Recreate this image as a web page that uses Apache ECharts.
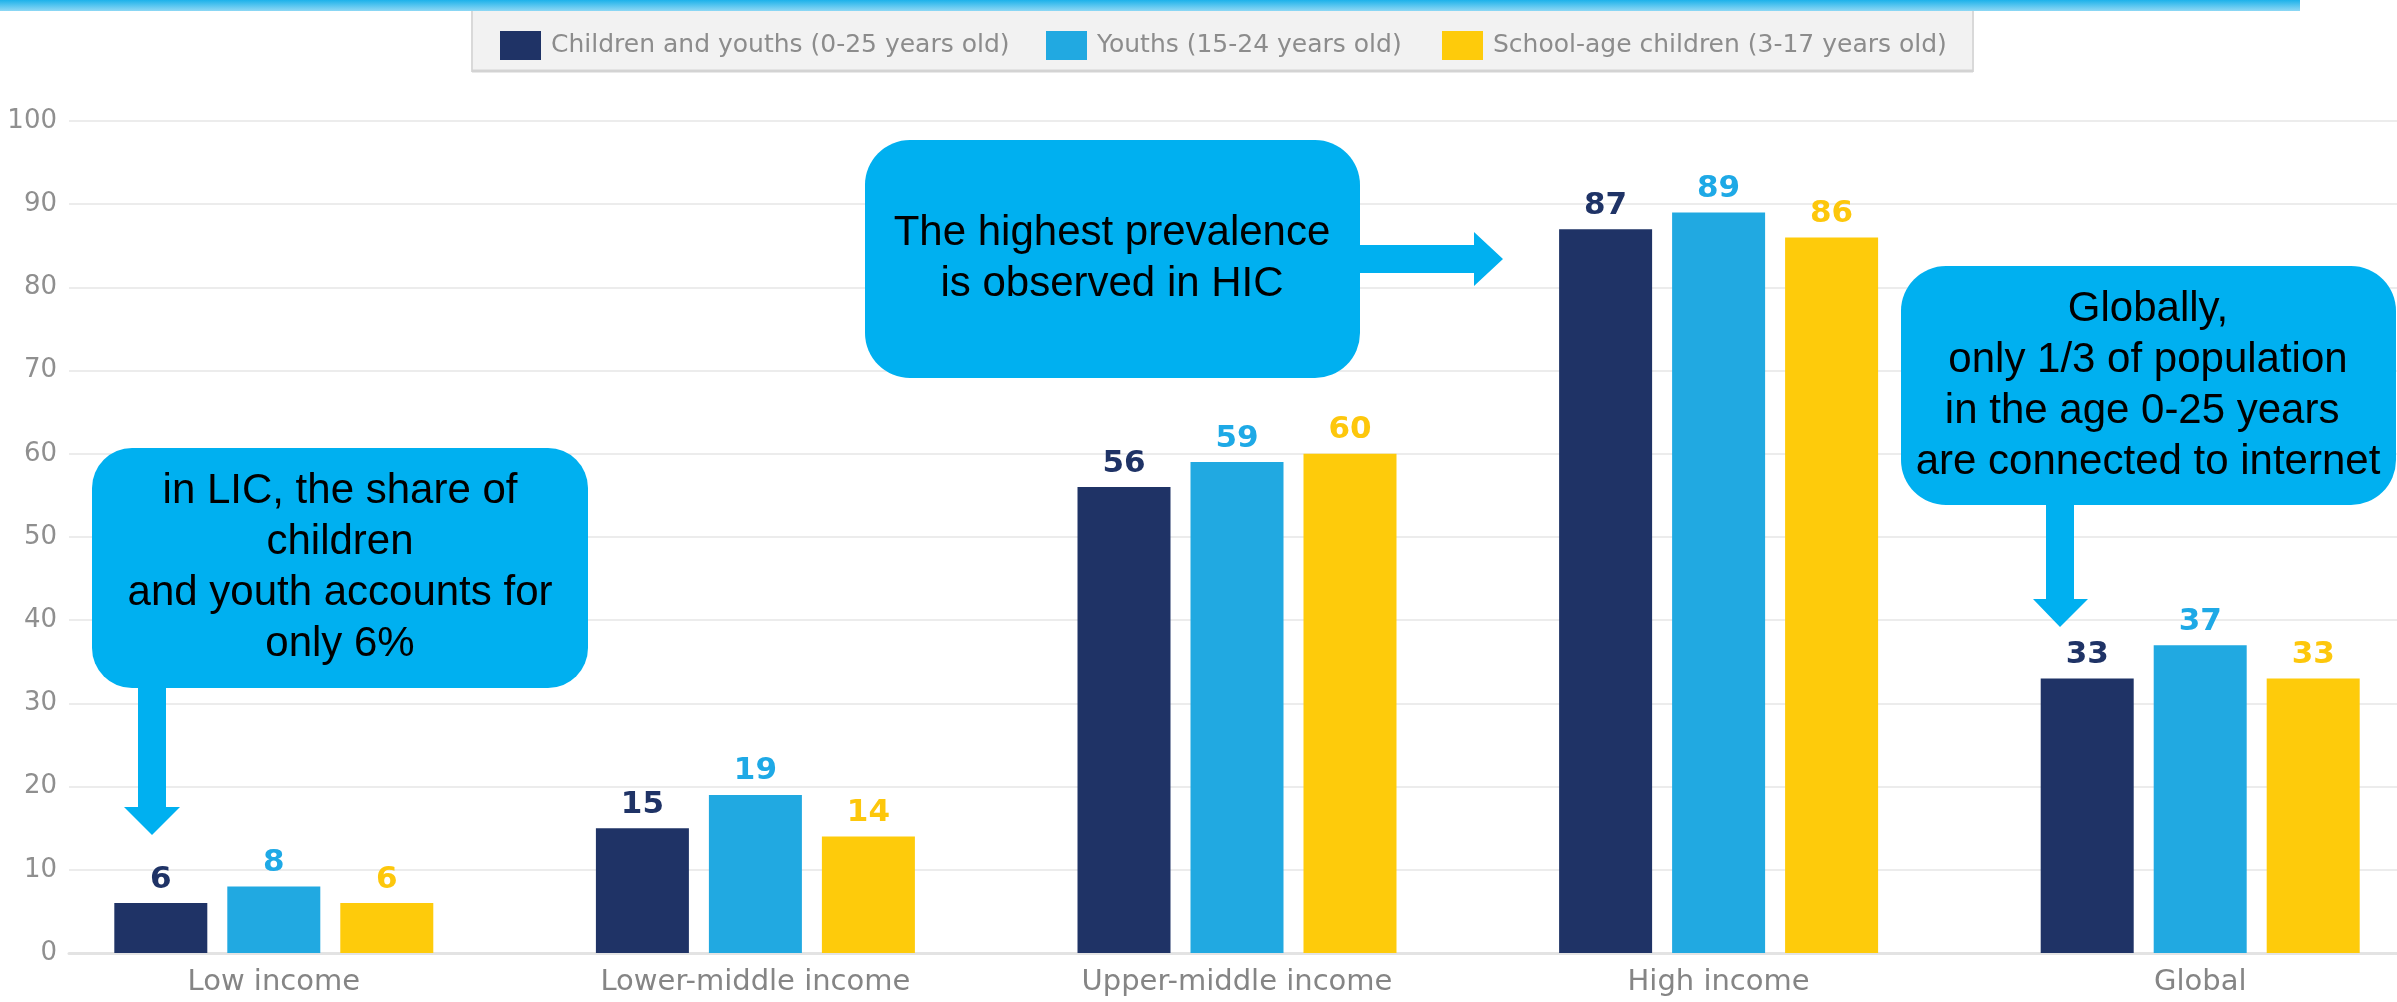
<!DOCTYPE html>
<html>
<head>
<meta charset="utf-8">
<script src="https://cdn.jsdelivr.net/npm/echarts@6/dist/echarts.min.js"></script>
<style>
html,body{margin:0;padding:0;background:#fff;overflow:hidden;width:2397px;height:1002px;}
#chart{width:2441px;height:1002px;}
</style>
</head>
<body>
<div id="chart"></div>
<script>
const categories = ['Low income', 'Lower-middle income', 'Upper-middle income', 'High income', 'Global'];
const seriesNames = ['Children and youths (0-25 years old)', 'Youths (15-24 years old)', 'School-age children (3-17 years old)'];
const childrenYouths = [6, 15, 56, 87, 33];
const youths = [8, 19, 59, 89, 37];
const schoolAge = [6, 14, 60, 86, 33];
const yMin = 0, yMax = 100, yStep = 10;
const colors = ['#1f3366', '#21a9e1', '#fecb0b'];
const labelColors = ['#1f3366', '#1ea9e6', '#fdc70c'];
const notes = [
  'in LIC, the share of\nchildren\nand youth accounts for\nonly 6%',
  'The highest prevalence\nis observed in HIC',
  'Globally,\nonly 1/3 of population\nin the age 0-25 years \nare connected to internet'
];

const chart = echarts.init(document.getElementById('chart'));
const boxColor = '#00b0f0';
const noteFont = {fontFamily: '"Liberation Sans", Arial, sans-serif', fontSize: 42, lineHeight: 51, fill: '#000', align: 'center', verticalAlign: 'middle'};

function legendAt(i, left) {
  return {
    data: [seriesNames[i]], left: left, top: 26,
    itemWidth: 41, itemHeight: 29, icon: 'rect',
    selectedMode: false,
    textStyle: {fontFamily: '"DejaVu Sans", sans-serif', fontSize: 25, color: '#8c8c8c', padding: [0, 0, 0, 5]}
  };
}

const barData = [childrenYouths, youths, schoolAge];

chart.setOption({
  animation: false,
  backgroundColor: '#ffffff',
  legend: [legendAt(0, 495), legendAt(1, 1041), legendAt(2, 1437)],
  grid: [
    {left: 69, right: 0, top: 121, height: 832},
    {left: 33, right: 0, top: 121, height: 832}
  ],
  xAxis: [
    {gridIndex: 0, type: 'value', min: 0, max: 1, axisLabel: {show: false}, axisTick: {show: false}, splitLine: {show: false},
      axisLine: {show: true, lineStyle: {color: '#e3e3e3', width: 3}}},
    {gridIndex: 1, type: 'category', data: categories, axisTick: {show: false}, axisLine: {show: false},
      axisLabel: {fontFamily: '"DejaVu Sans", sans-serif', fontSize: 29, color: '#858585', margin: 15}}
  ],
  yAxis: [
    {gridIndex: 0, type: 'value', min: yMin, max: yMax, interval: yStep,
      axisLine: {show: false}, axisTick: {show: false},
      axisLabel: {fontFamily: '"DejaVu Sans", sans-serif', fontSize: 26, color: '#8f8f8f', margin: 12},
      splitLine: {show: true, lineStyle: {color: '#ececec', width: 2}}},
    {gridIndex: 1, type: 'value', min: yMin, max: yMax, interval: yStep, show: false, splitLine: {show: false}}
  ],
  series: barData.map((d, i) => ({
    name: seriesNames[i], type: 'bar', xAxisIndex: 1, yAxisIndex: 1,
    data: d, barWidth: 93, barGap: '21.5%',
    itemStyle: {color: colors[i]},
    label: {show: true, position: 'top', distance: 8, color: labelColors[i],
      fontFamily: '"DejaVu Sans", sans-serif', fontWeight: 'bold', fontSize: 31}
  })),
  graphic: [
    {type: 'rect', z: 1, shape: {x: 0, y: 0, width: 2300, height: 11},
      style: {fill: new echarts.graphic.LinearGradient(0, 0, 0, 1, [{offset: 0, color: '#1db2ea'}, {offset: 1, color: '#8fd8f5'}])}},
    {type: 'rect', z: 0, shape: {x: 472, y: 10, width: 1501, height: 61},
      style: {fill: '#f2f2f2', stroke: '#d9d9d9', lineWidth: 2}},
    {type: 'line', z: 0, shape: {x1: 472, y1: 71, x2: 1973, y2: 71}, style: {stroke: '#d3d3d3', lineWidth: 3}},
    // note 1
    {type: 'rect', z: 100, shape: {x: 92, y: 448, width: 496, height: 240, r: 40}, style: {fill: boxColor}},
    {type: 'polygon', z: 100, shape: {points: [[138, 686], [166, 686], [166, 807], [180, 807], [152, 835], [124, 807], [138, 807]]}, style: {fill: boxColor}},
    {type: 'text', z: 101, x: 340, y: 568, style: Object.assign({text: notes[0]}, noteFont)},
    // note 2
    {type: 'rect', z: 100, shape: {x: 865, y: 140, width: 495, height: 238, r: 45}, style: {fill: boxColor}},
    {type: 'polygon', z: 100, shape: {points: [[1358, 245], [1474, 245], [1474, 232], [1503, 259], [1474, 286], [1474, 273], [1358, 273]]}, style: {fill: boxColor}},
    {type: 'text', z: 101, x: 1112, y: 259, style: Object.assign({text: notes[1]}, noteFont)},
    // note 3
    {type: 'rect', z: 100, shape: {x: 1901, y: 266, width: 495, height: 239, r: 45}, style: {fill: boxColor}},
    {type: 'polygon', z: 100, shape: {points: [[2046, 503], [2074, 503], [2074, 599], [2088, 599], [2060, 627], [2033, 599], [2046, 599]]}, style: {fill: boxColor}},
    {type: 'text', z: 101, x: 2148, y: 386, style: Object.assign({text: notes[2]}, noteFont)}
  ]
});
</script>
</body>
</html>
